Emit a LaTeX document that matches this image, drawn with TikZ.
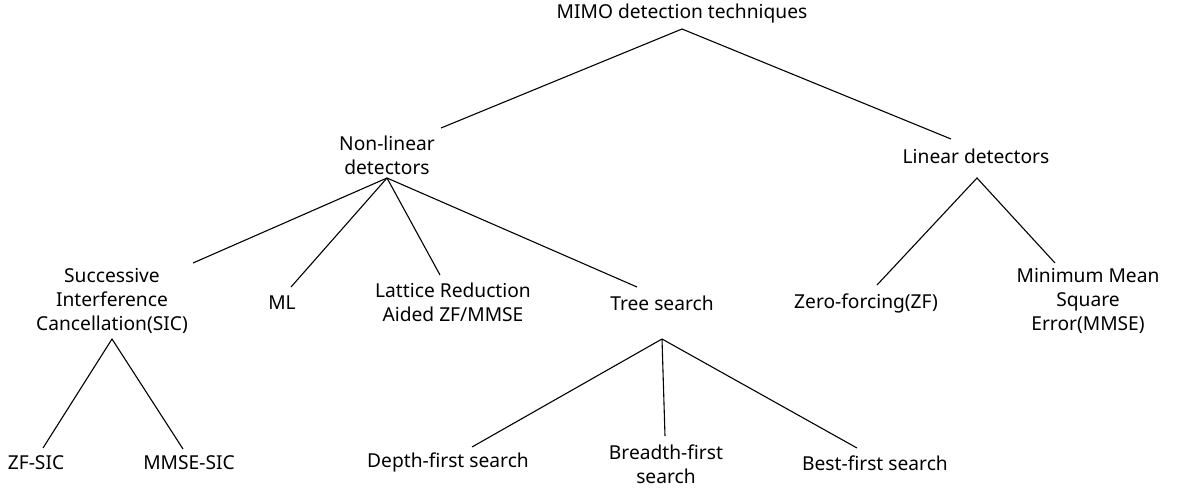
\documentclass[tikz,border=0pt]{standalone}
\usepackage{fontspec}
\setmainfont{Noto Sans}
\begin{document}
\begin{tikzpicture}[x=1pt,y=-1pt,
  label/.style={align=center,inner sep=0pt,font=\fontsize{19.2}{24}\selectfont},
  edge/.style={draw=black,line width=1.1pt}]
\useasboundingbox[fill=white] (0,0) rectangle (1186,490);

% text of the tree
\node[label] (root)    at (682,14)  {MIMO detection techniques};
\node[label] (nl)      at (387,155) {Non-linear\\detectors};
\node[label] (lin)     at (976,156) {Linear detectors};
\node[label] (sic)     at (112,301) {Successive\\Interference\\Cancellation(SIC)};
\node[label] (ml)      at (282,303) {ML};
\node[label] (lr)      at (453,302) {Lattice Reduction\\Aided ZF/MMSE};
\node[label] (ts)      at (662,303) {Tree search};
\node[label] (zf)      at (866,303) {Zero-forcing(ZF)};
\node[label] (mmse)    at (1088,301) {Minimum Mean\\Square\\Error(MMSE)};
\node[label] (zfsic)   at (36,463)  {ZF-SIC};
\node[label] (mmsesic) at (189,463) {MMSE-SIC};
\node[label] (dfs)     at (448,462) {Depth-first search};
\node[label] (bfs)     at (666,464) {Breadth-first\\search};
\node[label] (best)    at (875,463) {Best-first search};

% branching points below parents, attachment points above children
\coordinate (root-out)    at (682,29);
\coordinate (nl-in)       at (441,128);
\coordinate (lin-in)      at (951,139);
\coordinate (nl-out)      at (387,178);
\coordinate (sic-in)      at (193,263);
\coordinate (ml-in)       at (291,287);
\coordinate (lr-in)       at (440,275);
\coordinate (ts-in)       at (637,287);
\coordinate (lin-out)     at (977,178);
\coordinate (zf-in)       at (877,285);
\coordinate (mmse-in)     at (1055,263);
\coordinate (sic-out)     at (112,339);
\coordinate (zfsic-in)    at (43,448);
\coordinate (mmsesic-in)  at (183,449);
\coordinate (ts-out)      at (662,339);
\coordinate (dfs-in)      at (472,447);
\coordinate (bfs-in)      at (665,436);
\coordinate (best-in)     at (857,448);

% connectors
\draw[edge] (nl-in) -- (root-out) -- (lin-in);
\draw[edge] (nl-out) -- (sic-in);
\draw[edge] (nl-out) -- (ml-in);
\draw[edge] (nl-out) -- (lr-in);
\draw[edge] (nl-out) -- (ts-in);
\draw[edge] (zf-in) -- (lin-out) -- (mmse-in);
\draw[edge] (zfsic-in) -- (sic-out) -- (mmsesic-in);
\draw[edge] (ts-out) -- (dfs-in);
\draw[edge] (ts-out) -- (bfs-in);
\draw[edge] (ts-out) -- (best-in);
\end{tikzpicture}
\end{document}
